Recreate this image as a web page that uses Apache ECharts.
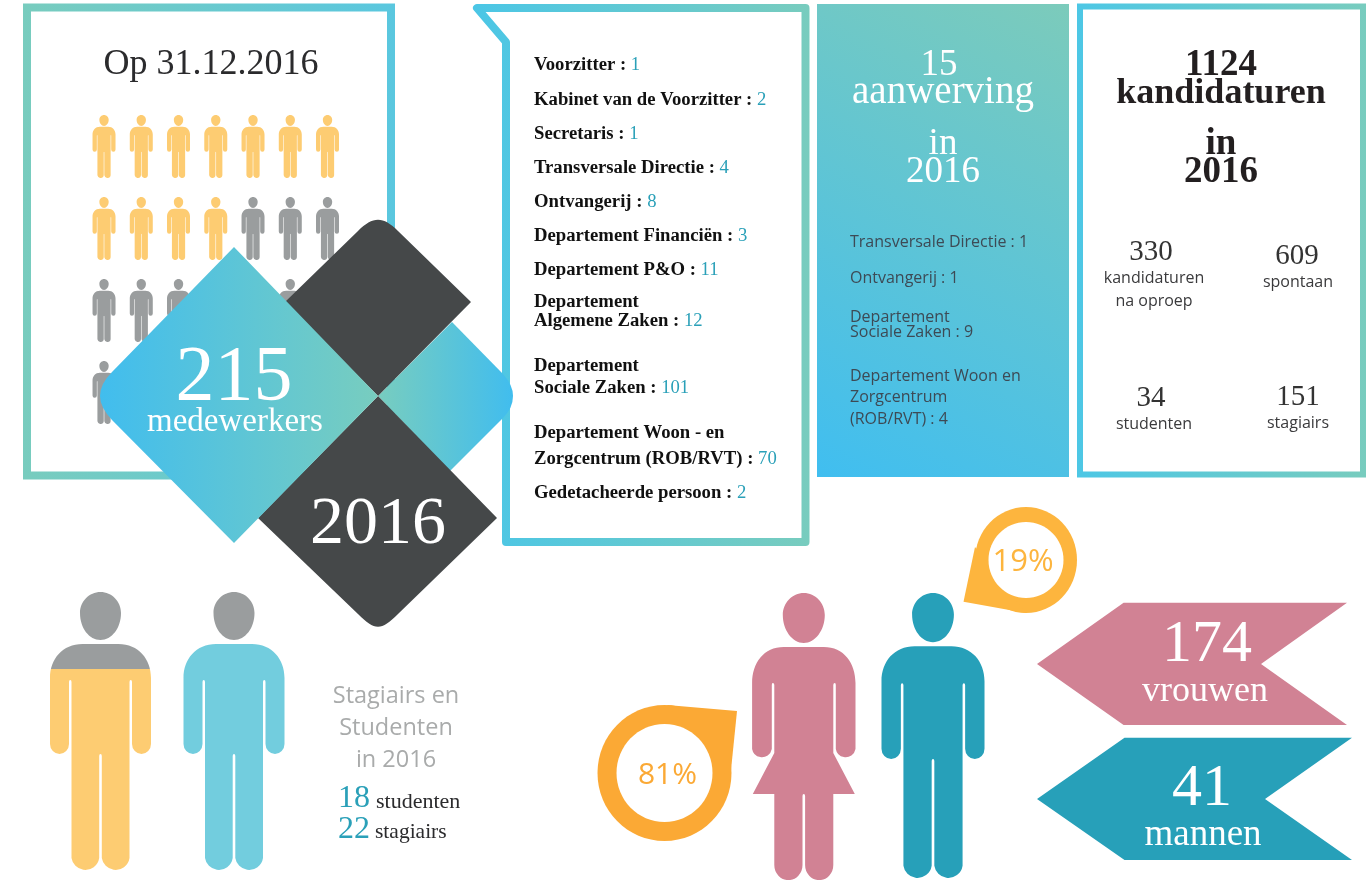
<!DOCTYPE html>
<html>
<head>
<meta charset="utf-8">
<title>215 medewerkers 2016</title>
<script src="https://cdn.jsdelivr.net/npm/echarts@6/dist/echarts.min.js"></script>
<style>
  html, body { margin: 0; padding: 0; background: #fff; }
  #main { width: 1366px; height: 880px; }
</style>
</head>
<body>
<div id="main"></div>
<script>
// waarden uit de figuur
const iconCols = ["1", "2", "3", "4", "5", "6", "7"];
const iconRows = ["1", "2", "3", "4"];
const yellowPerRow = [7, 4, 0, 0];

const deptLabels = [
  ["Voorzitter"],
  ["Kabinet van de Voorzitter"],
  ["Secretaris"],
  ["Transversale Directie"],
  ["Ontvangerij"],
  ["Departement Financiën"],
  ["Departement P&O"],
  ["Departement", "Algemene Zaken"],
  ["Departement", "Sociale Zaken"],
  ["Departement Woon - en", "Zorgcentrum (ROB/RVT)"],
  ["Gedetacheerde persoon"],
];
const deptValues = [1, 2, 1, 4, 8, 3, 11, 12, 101, 70, 2];

const hireLabels = [
  ["Transversale Directie"],
  ["Ontvangerij"],
  ["Departement", "Sociale Zaken"],
  ["Departement Woon en", "Zorgcentrum", "(ROB/RVT)"],
];
const hireValues = [1, 1, 9, 4];

const totalStaff = 215;
const year = 2016;
const hires = 15;
const applications = 1124;
const applicationParts = [330, 609, 34, 151];
const interns = [18, 22];
const genderCounts = [174, 41];
const genderShares = ["81%", "19%"];

const SERIF = '"Liberation Serif", serif';
const SANS = '"Open Sans", sans-serif';
const TEAL = "#2aa0b8";
const DARK = "#454849";
const GREY = "#9a9d9e";
const YELLOW = "#fdcc72";

const manPath =
  "M0 0 C11.3 0 20.5 9.5 20.5 21 C20.5 36 11.3 48 0 48 C-11.3 48 -20.5 36 -20.5 21 C-20.5 9.5 -11.3 0 0 0 Z " +
  "M-18 52 L18 52 C38 52 50.5 67 50.5 86 L50.5 152 A9.5 10 0 0 1 31.5 152 L31.5 90 Q31.5 88 30.3 88 Q29 88 29 90 " +
  "L29 266 A14 14 0 0 1 1.3 266 L1.3 164 Q1.3 162 0 162 Q-1.3 162 -1.3 164 L-1.3 266 A14 14 0 0 1 -29 266 " +
  "L-29 90 Q-29 88 -30.3 88 Q-31.5 88 -31.5 90 L-31.5 152 A9.5 10 0 0 1 -50.5 152 L-50.5 86 C-50.5 67 -38 52 -18 52 Z";
const womanPath =
  "M0 0 C11.5 0 21 10 21 22 C21 37 11.5 50 0 50 C-11.5 50 -21 37 -21 22 C-21 10 -11.5 0 0 0 Z " +
  "M-20 54 L20 54 C40 54 51.7 70 51.7 90 L51.7 156 A10 10 0 0 1 32 156 L32 92 Q32 90 31 90 Q29.5 90 29.5 92 " +
  "L29.5 160 L51 201 L29.5 201 L29.5 272 A14 15 0 0 1 1.3 272 L1.3 203 Q1.3 201 0 201 Q-1.3 201 -1.3 203 L-1.3 272 " +
  "A14 15 0 0 1 -29.5 272 L-29.5 201 L-51 201 L-29.5 160 L-29.5 92 Q-29.5 90 -31 90 Q-32 90 -32 92 L-32 156 " +
  "A10 10 0 0 1 -51.7 156 L-51.7 90 C-51.7 70 -40 54 -20 54 Z";

// graphic kent geen type "path", dus eigen vormen registreren
let shapeCount = 0;
function regPath(d) {
  const name = "svgShape" + shapeCount++;
  echarts.graphic.registerShape(name, echarts.graphic.extendPath(d, {}));
  return name;
}
const manType = regPath(manPath);
const womanType = regPath(womanPath);

function hGrad(c1, c2) {
  return { type: "linear", x: 0, y: 0, x2: 1, y2: 0, colorStops: [{ offset: 0, color: c1 }, { offset: 1, color: c2 }] };
}
function splitFill(top, bottom, at) {
  return {
    type: "linear", x: 0, y: 0, x2: 0, y2: 1,
    colorStops: [{ offset: 0, color: top }, { offset: at, color: top }, { offset: at, color: bottom }, { offset: 1, color: bottom }],
  };
}
function txt(text, x, y, font, size, color, align, weight) {
  return {
    type: "text", x: x, y: y + size * 0.08, z: 20, silent: true,
    style: {
      text: String(text), fontFamily: font, fontSize: size, fill: color,
      align: align || "center", verticalAlign: "middle", fontWeight: weight || "normal",
    },
  };
}
function shape(d, fill, z) {
  return { type: regPath(d), z: z, silent: true, style: { fill: fill } };
}
function frame(d, c1, c2, w, join) {
  return { type: regPath(d), z: 1, silent: true, style: { fill: "none", stroke: hGrad(c1, c2), lineWidth: w, lineJoin: join || "miter" } };
}
function person(type, x, y, sx, sy, fill) {
  return { type: type, z: 3, silent: true, x: x, y: y, scaleX: sx, scaleY: sy, style: { fill: fill } };
}
function pin(cx, cy, rx, ry, irx, iry, tail, color, label, labelX, size) {
  return [
    { type: "ellipse", z: 3, silent: true, shape: { cx: cx, cy: cy, rx: rx, ry: ry }, style: { fill: color } },
    shape(tail, color, 3),
    { type: "ellipse", z: 4, silent: true, shape: { cx: cx, cy: cy, rx: irx, ry: iry }, style: { fill: "#fff" } },
    txt(label, labelX, cy, SANS, size, color),
  ];
}

// poppetjes
const yellowData = [];
const greyData = [];
iconRows.forEach(function (r, ri) {
  iconCols.forEach(function (c, ci) {
    (ci < yellowPerRow[ri] ? yellowData : greyData).push([ci, ri]);
  });
});

// lijst departementen
const deptY = [64, 99, 133, 167, 201, 235, 269, [301, 320], [365, 387], [432, 458], 492];
const deptText = [];
deptLabels.forEach(function (lines, i) {
  const ys = [].concat(deptY[i]);
  lines.forEach(function (line, j) {
    const last = j === lines.length - 1;
    const t = txt("", 534, ys[j], SERIF, 18.7, "#111", "left");
    t.style.text = last ? "{b|" + line + " :} {v|" + deptValues[i] + "}" : "{b|" + line + "}";
    t.style.rich = {
      b: { fontFamily: SERIF, fontSize: 18.7, fontWeight: "bold", fill: "#111" },
      v: { fontFamily: SERIF, fontSize: 18.7, fill: TEAL },
    };
    deptText.push(t);
  });
});

// lijst aanwervingen
const hireY = [241, 277, [316, 331], [375, 396, 418]];
const hireText = [];
hireLabels.forEach(function (lines, i) {
  const ys = [].concat(hireY[i]);
  lines.forEach(function (line, j) {
    const last = j === lines.length - 1;
    hireText.push(txt(last ? line + " : " + hireValues[i] : line, 850, ys[j], SANS, 16, "#3d4a55", "left"));
  });
});

const graphics = [
  // kaders
  frame("M27 7.5 L391 7.5 L391 475.5 L27 475.5 Z", "#78ccbe", "#5ac7df", 8),
  frame("M477 8 L805.5 8 L805.5 542 L506 542 L506 42 Z", "#4bc6e6", "#78ccbe", 8, "round"),
  {
    type: "rect", z: 1, silent: true, shape: { x: 817, y: 4, width: 252, height: 473 },
    style: { fill: { type: "linear", x: 1, y: 0, x2: 0, y2: 1, colorStops: [{ offset: 0, color: "#7ccbbb" }, { offset: 1, color: "#40bef0" }] } },
  },
  frame("M1080 6.5 L1363 6.5 L1363 474.5 L1080 474.5 Z", "#4dc7e5", "#78ccbe", 6),

  // ruiten
  shape("M378 396 L285 302 L358 231 C373 216 383 216 398 231 L471 302 Z", DARK, 10),
  shape("M378 396 L497 518 L398 614 C381 631 375 631 358 614 L258 518 Z", DARK, 10),
  shape("M378 396 L452 322 L503 374 Q513 385 513 396 Q513 408 503 418 L450 471 Z", hGrad("#78cdbf", "#41bdee"), 9),
  shape("M234 247 L378 396 L234 543 L112 420 Q100 407 100 396 Q100 384 112 372 Z", hGrad("#41bdee", "#78cdbf"), 11),

  // grote figuren
  person(manType, 100.5, 592, 1, 1, splitFill(GREY, YELLOW, 0.2786)),
  person(manType, 234, 592, 1, 1, splitFill(GREY, "#72cdde", 0.175)),
  person(womanType, 803.8, 593, 1, 1, "#d18294"),
  person(manType, 933, 593, 1.02, 1.025, "#27a0b9"),

  // pijlen
  shape("M1037 664 L1123.6 602.7 L1347 602.7 L1261 664 L1347 725 L1123.6 725 Z", "#d18294", 3),
  shape("M1037 799 L1124.5 737.7 L1352 737.7 L1265 799 L1352 860 L1124.5 860 Z", "#27a0b9", 3),
].concat(
  pin(664.5, 773, 67, 68, 48, 49, "M667 705 L737 711 L730 780 Z", "#fba935", genderShares[0], 667.5, 30),
  pin(1026, 560, 51, 53, 37.5, 38, "M975 547 L963.5 601.7 L1026 613 Z", "#fdb53e", genderShares[1], 1023, 31),
  deptText,
  hireText,
  [
    txt("Op 31.12.2016", 211, 62, SERIF, 36, "#2b2b2d"),
    txt(totalStaff, 234, 372, SERIF, 78, "#fff"),
    txt("medewerkers", 235, 420, SERIF, 33, "#fff"),
    txt(year, 378, 520, SERIF, 68, "#fff"),

    txt(hires, 939, 62, SERIF, 37, "#fff"),
    txt("aanwerving", 943, 90, SERIF, 39, "#fff"),
    txt("in", 943, 141, SERIF, 37, "#fff"),
    txt(year, 943, 169, SERIF, 37, "#fff"),

    txt(applications, 1221, 62, SERIF, 37, "#231f20", "center", "bold"),
    txt("kandidaturen", 1221, 91, SERIF, 36, "#231f20", "center", "bold"),
    txt("in", 1221, 141, SERIF, 37, "#231f20", "center", "bold"),
    txt(year, 1221, 169, SERIF, 37, "#231f20", "center", "bold"),

    txt(applicationParts[0], 1151, 250, SERIF, 29, "#333"),
    txt("kandidaturen", 1154, 277, SANS, 16, "#3a3a3c"),
    txt("na oproep", 1154, 300, SANS, 16, "#3a3a3c"),
    txt(applicationParts[1], 1297, 254, SERIF, 29, "#333"),
    txt("spontaan", 1298, 281, SANS, 16, "#3a3a3c"),
    txt(applicationParts[2], 1151, 396, SERIF, 29, "#333"),
    txt("studenten", 1154, 423, SANS, 16, "#3a3a3c"),
    txt(applicationParts[3], 1298, 395, SERIF, 29, "#333"),
    txt("stagiairs", 1298, 422, SANS, 16, "#3a3a3c"),

    txt("Stagiairs en", 396, 694, SANS, 23.5, "#a9abab"),
    txt("Studenten", 396, 726, SANS, 23.5, "#a9abab"),
    txt("in 2016", 396, 758, SANS, 23.5, "#a9abab"),
    txt(interns[0], 338, 796, SERIF, 32, TEAL, "left"),
    txt("studenten", 376, 800, SERIF, 22, "#2b2b2d", "left"),
    txt(interns[1], 338, 827, SERIF, 32, TEAL, "left"),
    txt("stagiairs", 375, 831, SERIF, 21.5, "#2b2b2d", "left"),

    txt(genderCounts[0], 1207, 640, SERIF, 60, "#fff"),
    txt("vrouwen", 1205, 689, SERIF, 36, "#fff"),
    txt(genderCounts[1], 1202, 784, SERIF, 60, "#fff"),
    txt("mannen", 1203, 832, SERIF, 37, "#fff"),
  ]
);

const chartDom = echarts.init(document.getElementById("main"));
const option = {
  animation: false,
  backgroundColor: "#fff",
  grid: { left: 85.4, top: 105.5, width: 260.75, height: 328 },
  xAxis: { type: "category", data: iconCols, show: false },
  yAxis: { type: "category", data: iconRows, inverse: true, show: false },
  series: [
    { type: "scatter", z: 2, silent: true, symbol: "path://" + manPath, symbolSize: [23, 63], itemStyle: { color: YELLOW, opacity: 1 }, data: yellowData },
    { type: "scatter", z: 2, silent: true, symbol: "path://" + manPath, symbolSize: [23, 63], itemStyle: { color: GREY, opacity: 1 }, data: greyData },
  ],
  graphic: { elements: graphics },
};
chartDom.setOption(option);
</script>
</body>
</html>
